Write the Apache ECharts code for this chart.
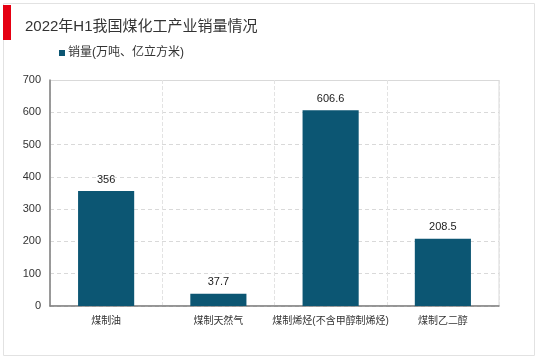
<!DOCTYPE html>
<html><head><meta charset="utf-8">
<script src="https://cdn.jsdelivr.net/npm/echarts@6/dist/echarts.min.js"></script>
<style>html,body{margin:0;padding:0;background:#fff}#c{width:539px;height:359px}</style>
</head><body><div id="c"></div>
<script>
const categories = ['煤制油', '煤制天然气', '煤制烯烃(不含甲醇制烯烃)', '煤制乙二醇'];
const salesValues = [356, 37.7, 606.6, 208.5];
const valueLabels = ['356', '37.7', '606.6', '208.5'];
const seriesName = '销量(万吨、亿立方米)';
const titleText = '2022年H1我国煤化工产业销量情况';

const chart = echarts.init(document.getElementById('c'), null, {renderer: 'canvas'});
const font = '"Liberation Sans", Arial, "Noto Sans CJK SC", sans-serif';
chart.setOption({
  animation: false,
  backgroundColor: '#fff',
  textStyle: {fontFamily: font},
  graphic: [
    {type: 'rect', shape: {x: 3.5, y: 3.5, width: 531, height: 352}, style: {fill: 'none', stroke: '#e2e2e2', lineWidth: 1}, silent: true, z: -1},
    {type: 'rect', shape: {x: 3, y: 5, width: 8, height: 35}, style: {fill: '#e50012'}, silent: true},
    {type: 'rect', shape: {x: 50, y: 80.5, width: 449, height: 225}, style: {fill: 'none', stroke: '#d9d9d9', lineWidth: 1}, silent: true, z: -1}
  ],
  title: {
    text: titleText, left: 20, top: 14,
    textStyle: {fontSize: 15, fontWeight: 'normal', color: '#333', fontFamily: font}
  },
  legend: {
    data: [seriesName], left: 54, top: 42, itemWidth: 6, itemHeight: 6, itemGap: 4,
    icon: 'rect',
    textStyle: {fontSize: 12, color: '#333', fontFamily: font, padding: [0, 0, 0, -2]}
  },
  grid: {left: 50, right: 40, top: 80, bottom: 53, containLabel: false},
  xAxis: {
    type: 'category', data: categories,
    axisLine: {lineStyle: {color: '#7f7f7f', width: 1.5}},
    axisTick: {show: false},
    axisLabel: {fontSize: 10, color: '#333', margin: 10, interval: 0},
    splitLine: {show: true, lineStyle: {color: '#e3e3e3', type: 'dashed'}}
  },
  yAxis: {
    type: 'value', min: 0, max: 700, interval: 100,
    axisLine: {show: true, lineStyle: {color: '#7f7f7f', width: 1.5}},
    axisTick: {show: false},
    axisLabel: {fontSize: 11, color: '#333', margin: 9},
    splitLine: {lineStyle: {color: '#d9d9d9', type: [4, 3]}}
  },
  series: [{
    name: seriesName, type: 'bar', data: salesValues, barWidth: '50%',
    itemStyle: {color: '#0c5673'},
    label: {show: true, position: 'top', fontSize: 11, color: '#222', distance: 6,
      formatter: p => valueLabels[p.dataIndex]}
  }]
});
</script></body></html>
